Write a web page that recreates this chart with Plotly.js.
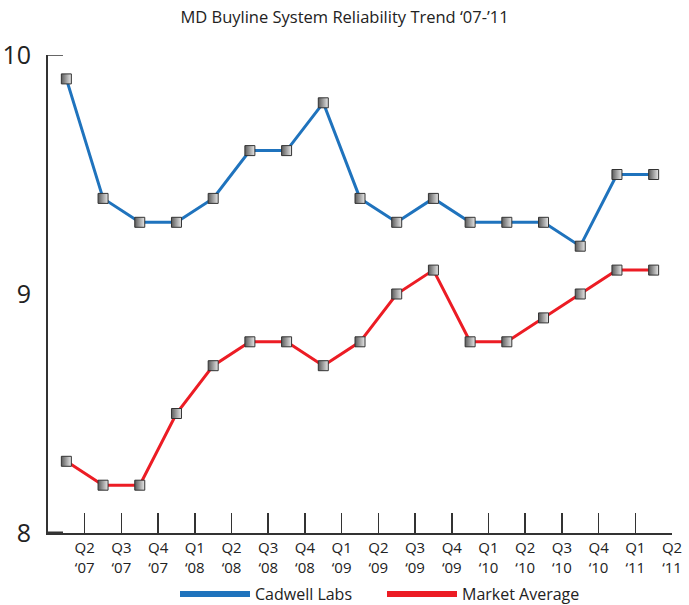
<!DOCTYPE html>
<html><head><meta charset="utf-8">
<script src="https://cdn.plot.ly/plotly-3.0.1.min.js"></script>
<style>html,body{margin:0;padding:0;background:#fff}#chart{width:689px;height:605px}</style>
</head><body><div id="chart"></div>
<script>
const quarters = ["Q1 '07","Q2 '07","Q3 '07","Q4 '07","Q1 '08","Q2 '08","Q3 '08","Q4 '08","Q1 '09","Q2 '09","Q3 '09","Q4 '09","Q1 '10","Q2 '10","Q3 '10","Q4 '10","Q1 '11"];
const tickLabels = ["Q2<br>‘07","Q3<br>‘07","Q4<br>‘07","Q1<br>‘08","Q2<br>‘08","Q3<br>‘08","Q4<br>‘08","Q1<br>‘09","Q2<br>‘09","Q3<br>‘09","Q4<br>‘09","Q1<br>‘10","Q2<br>‘10","Q3<br>‘10","Q4<br>‘10","Q1<br>‘11","Q2<br>‘11"];
const cadwell = [9.9,9.4,9.3,9.3,9.4,9.6,9.6,9.8,9.4,9.3,9.4,9.3,9.3,9.3,9.2,9.5,9.5];
const market  = [8.3,8.2,8.2,8.5,8.7,8.8,8.8,8.7,8.8,9.0,9.1,8.8,8.8,8.9,9.0,9.1,9.1];
const seriesNames = ["Cadwell Labs","Market Average"];

const idx = quarters.map((_, i) => i);
const tickPos = tickLabels.map((_, i) => i + 0.5);
const marker = {symbol:'square', size:10, color:'#5a5a5a', gradient:{type:'horizontal', color:'#e8e8e8'}, line:{color:'#333', width:1}};
const colors = ['#1f73bd','#ec1c24'];
const traces = [
  {x: idx, y: cadwell, mode:'lines+markers', line:{color:colors[0], width:3}, marker: marker, showlegend:false, hoverinfo:'y'},
  {x: idx, y: market, mode:'lines+markers', line:{color:colors[1], width:3}, marker: marker, showlegend:false, hoverinfo:'y'},
  {x:[null], y:[null], mode:'lines', name:seriesNames[0], line:{color:colors[0], width:6}},
  {x:[null], y:[null], mode:'lines', name:seriesNames[1], line:{color:colors[1], width:6}}
];
const font = "'Open Sans', 'Noto Sans', sans-serif";
const layout = {
  width:689, height:605,
  margin:{l:48, r:17, t:55, b:72},
  paper_bgcolor:'#fff', plot_bgcolor:'#fff',
  font:{family:font, color:'#222'},
  title:{text:"MD Buyline System Reliability Trend ‘07-’11", x:0.5, xanchor:'center', y:0.972, yanchor:'middle', font:{size:16.5, color:'#222', family:font}},
  xaxis:{range:[-0.5,16.5], tickmode:'array', tickvals:tickPos, ticktext:tickLabels, ticks:'inside', ticklen:20, tickwidth:1.5, tickcolor:'#333',
         showline:true, linecolor:'#333', linewidth:2, showgrid:false, zeroline:false, tickfont:{size:15, color:'#222'}, fixedrange:true, automargin:false},
  yaxis:{range:[8,10], tickmode:'array', tickvals:[8,9,10], ticktext:['8','9','10'], ticks:'', showline:true, linecolor:'#333', linewidth:2,
         showgrid:false, zeroline:false, tickfont:{size:25, color:'#222'}, ticklabelstandoff:10, fixedrange:true, automargin:false},
  shapes:[
    {type:'line', xref:'paper', yref:'y', x0:0, x1:0.024, y0:10, y1:10, line:{color:'#333', width:1.5}},
    {type:'line', xref:'paper', yref:'y', x0:0, x1:0.024, y0:8, y1:8, line:{color:'#333', width:3}}
  ],
  legend:{orientation:'h', xref:'container', yref:'container', x:175/689, xanchor:'left', y:11/605, yanchor:'middle',
          font:{size:16, color:'#222'}, itemwidth:70, entrywidth:122, entrywidthmode:'pixels'},
  showlegend:true
};
Plotly.newPlot('chart', traces, layout, {displayModeBar:false, staticPlot:true});
</script></body></html>
